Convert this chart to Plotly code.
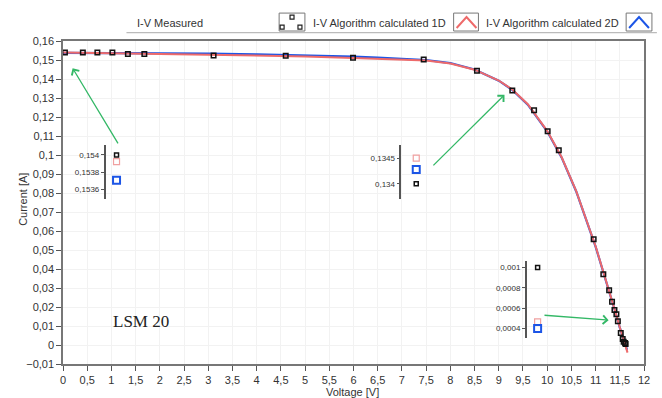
import plotly.graph_objects as go

# ---------------- data ----------------
meas_v = [0.04, 0.41, 0.71, 1.02, 1.34, 1.68, 3.11, 4.60, 5.99, 7.45, 8.55, 9.28, 9.73,
          10.01, 10.24, 10.96, 11.16, 11.28, 11.34, 11.39, 11.43, 11.46, 11.52, 11.56,
          11.58, 11.61, 11.62]
meas_i = [0.1540, 0.1539, 0.1539, 0.1539, 0.1532, 0.1532, 0.1524, 0.1523, 0.1512, 0.1502,
          0.1444, 0.1340, 0.1235, 0.1125, 0.1025, 0.0556, 0.0372, 0.0288, 0.0228, 0.0184,
          0.0162, 0.0125, 0.0063, 0.0032, 0.0017, 0.0010, 0.0005]

alg1d_v = [0, 0.5, 1.0, 2.0, 3.0, 4.0, 5.0, 6.0, 6.5, 7.0, 7.5, 8.0, 8.5, 9.0, 9.28,
           9.6, 10.0, 10.3, 10.6, 11.0, 11.2, 11.4, 11.5, 11.61, 11.66]
alg1d_i = [0.15392, 0.15380, 0.15360, 0.15320, 0.15275, 0.15235, 0.15185, 0.15110, 0.15070,
           0.15030, 0.14970, 0.14820, 0.14490, 0.13920, 0.13450, 0.12670, 0.11270, 0.09880,
           0.08100, 0.05200, 0.03550, 0.01820, 0.00930, 0.000465, -0.0040]

alg2d_v = [0, 0.5, 1.0, 2.0, 3.0, 4.0, 5.0, 6.0, 6.5, 7.0, 7.5, 8.0, 8.5, 9.0, 9.28,
           9.6, 10.0, 10.3, 10.6, 11.0, 11.2, 11.4, 11.5, 11.61, 11.65]
alg2d_i = [0.15371, 0.15370, 0.15368, 0.15360, 0.15335, 0.15300, 0.15255, 0.15180, 0.15130,
           0.15080, 0.15000, 0.14840, 0.14500, 0.13910, 0.13428, 0.12650, 0.11250, 0.09860,
           0.08080, 0.05180, 0.03530, 0.01800, 0.00910, 0.00040, -0.0025]

# inset zoom values: [measured, 1D, 2D]
inset1_vals = [0.1540, 0.153923, 0.153706]
inset1_ticks = [0.1540, 0.1538, 0.1536]
inset1_text = ["0,154", "0,1538", "0,1536"]
inset2_vals = [0.1340, 0.1345, 0.13428]
inset2_ticks = [0.1345, 0.1340]
inset2_text = ["0,1345", "0,134"]
inset3_vals = [0.0010, 0.000465, 0.00040]
inset3_ticks = [0.0010, 0.0008, 0.0006, 0.0004]
inset3_text = ["0,001", "0,0008", "0,0006", "0,0004"]

RED = "#ee6a6a"
PINK = "#f0a0a0"
BLUE = "#1c55e6"
FONT = "Liberation Sans Narrow, Liberation Sans, Arial"
TXT = "#333333"

fig = go.Figure()

fig.add_trace(go.Scatter(x=alg2d_v, y=alg2d_i, mode="lines",
                         line=dict(color=BLUE, width=2.2), showlegend=False))
fig.add_trace(go.Scatter(x=alg1d_v, y=alg1d_i, mode="lines",
                         line=dict(color=RED, width=2), showlegend=False))
fig.add_trace(go.Scatter(x=meas_v, y=meas_i, mode="markers",
                         marker=dict(symbol="square-open", size=4.5, color="#111111",
                                     line=dict(width=1.5)), showlegend=False))

# insets
inset_colors = ["#111111", PINK, BLUE]
inset_sizes = [4, 6, 7]
inset_widths = [1.5, 1.2, 2]
for k, vals in [(2, inset1_vals), (3, inset2_vals), (4, inset3_vals)]:
    for j in range(3):
        fig.add_trace(go.Scatter(x=[0], y=[vals[j]], mode="markers",
                                 xaxis=f"x{k}", yaxis=f"y{k}",
                                 marker=dict(symbol="square-open", size=inset_sizes[j],
                                             color=inset_colors[j],
                                             line=dict(width=inset_widths[j])),
                                 showlegend=False))

def inset_axes(xdom, ydom, yrange, tv, tt):
    xa = dict(domain=xdom, range=[-1, 1], visible=False, fixedrange=True)
    ya = dict(domain=ydom, range=yrange, showline=True, linecolor="#555555", linewidth=1.5,
              ticks="outside", ticklen=3, tickcolor="#555555", tickvals=tv, ticktext=tt,
              tickfont=dict(size=8, color=TXT, family=FONT), showgrid=False, zeroline=False)
    return xa, ya

x2, y2 = inset_axes([0.0734, 0.1109], [0.5114, 0.679], [0.153492, 0.154119], inset1_ticks, inset1_text)
x3, y3 = inset_axes([0.5824, 0.6336], [0.5114, 0.679], [0.13371, 0.13476], inset2_ticks, inset2_text)
x4, y4 = inset_axes([0.7981, 0.8357], [0.0802, 0.3188], [0.000304, 0.001065], inset3_ticks, inset3_text)
for k, (xa, ya) in zip([2, 3, 4], [(x2, y2), (x3, y3), (x4, y4)]):
    xa["anchor"] = f"y{k}"
    ya["anchor"] = f"x{k}"
    fig.layout[f"xaxis{k}"] = xa
    fig.layout[f"yaxis{k}"] = ya

fig.update_layout(
    width=662, height=398,
    margin=dict(l=63, r=13, t=41, b=33),
    paper_bgcolor="white", plot_bgcolor="rgba(0,0,0,0)",
    separators=",.",
    font=dict(family=FONT, size=11, color=TXT),
    xaxis=dict(range=[0, 12], dtick=0.5, tick0=0, showgrid=True, gridcolor="#f2f2f2",
               showline=True, mirror=True, linecolor="#777777", linewidth=1.5,
               ticks="outside", ticklen=5, tickcolor="#555555", zeroline=False,
               tickfont=dict(size=11, color=TXT)),
    yaxis=dict(range=[-0.01, 0.16], dtick=0.01, tick0=0, showgrid=True, gridcolor="#f2f2f2",
               showline=True, mirror=True, linecolor="#777777", linewidth=1.5,
               ticks="outside", ticklen=5, tickcolor="#555555", zeroline=False,
               tickfont=dict(size=11, color=TXT)),
)

def px(xp):
    return (xp - 63) / 586

def py(yp):
    return (365 - yp) / 324

ann = []
# axis titles
ann.append(dict(text="Current [A]", x=px(22), y=py(200), xref="paper", yref="paper",
                xanchor="center", yanchor="middle",
                textangle=-90, showarrow=False, font=dict(size=11, color=TXT)))
ann.append(dict(text="Voltage [V]", x=px(355), y=py(393), xref="paper", yref="paper",
                xanchor="center", yanchor="middle",
                showarrow=False, font=dict(size=11, color=TXT)))
# legend texts
for t, x0 in [("I-V Measured", 136), ("I-V Algorithm calculated 1D", 312.7),
              ("I-V Algorithm calculated 2D", 488)]:
    ann.append(dict(text=t, x=px(x0), y=py(22.5), xref="paper", yref="paper",
                    xanchor="left", yanchor="middle", showarrow=False,
                    font=dict(size=11, color=TXT)))
# LSM label
ann.append(dict(text="LSM 20", x=px(111), y=py(322), xref="paper", yref="paper",
                xanchor="left", yanchor="middle",
                showarrow=False, font=dict(family="Liberation Serif, Times New Roman", size=17,
                                           color="#222222")))
# green arrows
GREEN = "#33b866"
for hx, hy, ax, ay in [(72.7, 68.3, 46.3, 76.7), (508.3, 95, -72.6, 72), (613.3, 321, -65.6, -5)]:
    ann.append(dict(x=px(hx), y=py(hy), xref="paper", yref="paper",
                    ax=ax, ay=ay, showarrow=True, arrowhead=4, arrowsize=1.3, arrowwidth=1.3,
                    arrowcolor=GREEN, text=""))
fig.update_layout(annotations=ann)

shapes = []
# line under legend
shapes.append(dict(type="line", xref="paper", yref="paper", x0=px(127), x1=px(662),
                   y0=py(32.5), y1=py(32.5), line=dict(color="#bbbbbb", width=1.2)))
# legend icon boxes
for x0, x1 in [(281, 307), (457, 482), (631, 657)]:
    shapes.append(dict(type="rect", xref="paper", yref="paper", x0=px(x0), x1=px(x1),
                       y0=py(31), y1=py(13), line=dict(color="#777777", width=1),
                       fillcolor="white"))
# icon for measured: small squares
for cx, cy in [(294, 17), (284, 27), (302, 27)]:
    shapes.append(dict(type="rect", xref="paper", yref="paper", x0=px(cx - 2), x1=px(cx + 2),
                       y0=py(cy + 2), y1=py(cy - 2), line=dict(color="#222222", width=1.2)))
# icons for lines
for x0, col in [(457, RED), (631, BLUE)]:
    shapes.append(dict(type="path", xref="paper", yref="paper",
                       path=f"M {px(x0 + 3)} {py(28)} L {px(x0 + 13)} {py(17)} L {px(x0 + 23)} {py(28)}",
                       line=dict(color=col, width=2)))
fig.update_layout(shapes=shapes)

fig.write_html("out.html")
